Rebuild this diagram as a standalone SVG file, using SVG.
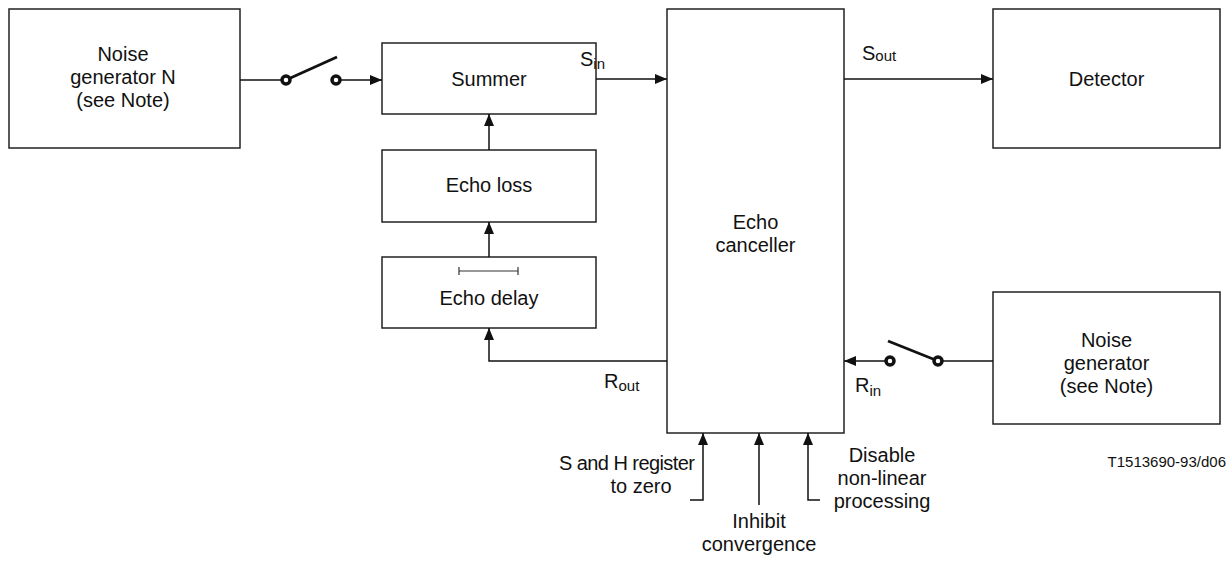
<svg xmlns="http://www.w3.org/2000/svg" width="1229" height="584" viewBox="0 0 1229 584">
<style>
.box{fill:#fff;stroke:#222;stroke-width:1.5}
.t{font-family:"Liberation Sans",Arial,sans-serif;font-size:20px;fill:#111;text-anchor:middle}
.l{font-family:"Liberation Sans",Arial,sans-serif;font-size:20px;fill:#111}
.w{fill:none;stroke:#111;stroke-width:1.5}
.sw{fill:none;stroke:#111;stroke-width:2.8}
.c{fill:#fff;stroke:#111;stroke-width:3.5}
</style>
<defs>
<marker id="ah" viewBox="0 0 12 10" refX="12" refY="5" markerWidth="12" markerHeight="10" markerUnits="userSpaceOnUse" orient="auto">
<path d="M0,0 L12,5 L0,10 Z" fill="#111"/>
</marker>
</defs>
<g id="noiseN">
<rect class="box" x="9" y="9" width="231" height="139"/>
<text class="t" x="123" y="61">Noise</text>
<text class="t" x="123" y="84">generator N</text>
<text class="t" x="123" y="107">(see Note)</text>
</g>
<g id="summer">
<rect class="box" x="382" y="43" width="214" height="71"/>
<text class="t" x="489" y="86">Summer</text>
</g>
<g id="echoloss">
<rect class="box" x="382" y="150" width="214" height="72"/>
<text class="t" x="489" y="192">Echo loss</text>
</g>
<g id="echodelay">
<rect class="box" x="382" y="257" width="214" height="71"/>
<path d="M459,267 V275 M518,267 V275 M459,271 H518" stroke="#333" stroke-width="1.2" fill="none"/>
<text class="t" x="489" y="305">Echo delay</text>
</g>
<g id="canceller">
<rect class="box" x="667" y="9" width="177" height="424"/>
<text class="t" x="755.5" y="229">Echo</text>
<text class="t" x="755.5" y="252">canceller</text>
</g>
<g id="detector">
<rect class="box" x="993" y="9" width="227" height="139"/>
<text class="t" x="1106.5" y="86">Detector</text>
</g>
<g id="noiseR">
<rect class="box" x="993" y="292" width="227" height="132"/>
<text class="t" x="1106.5" y="347">Noise</text>
<text class="t" x="1106.5" y="370">generator</text>
<text class="t" x="1106.5" y="393">(see Note)</text>
</g>
<g id="connectors">
<path class="w" d="M240,80 H286"/>
<path class="w" d="M336,80 H382" marker-end="url(#ah)"/>
<path class="sw" d="M286,80 L337,57"/>
<circle class="c" cx="286" cy="80" r="4"/>
<circle class="c" cx="336" cy="80" r="4"/>
<path class="w" d="M596,79 H667" marker-end="url(#ah)"/>
<path class="w" d="M844,79 H993" marker-end="url(#ah)"/>
<path class="w" d="M489,150 V114" marker-end="url(#ah)"/>
<path class="w" d="M489,257 V222" marker-end="url(#ah)"/>
<path class="w" d="M667,361 H489 V328" marker-end="url(#ah)"/>
<path class="w" d="M993,361 H938"/>
<path class="w" d="M890,361 H844" marker-end="url(#ah)"/>
<path class="sw" d="M938,361 L888,341"/>
<circle class="c" cx="890" cy="361" r="4"/>
<circle class="c" cx="938" cy="361" r="4"/>
<path class="w" d="M690,500 H703 V433" marker-end="url(#ah)"/>
<path class="w" d="M759,505 V433" marker-end="url(#ah)"/>
<path class="w" d="M820,500 H808 V433" marker-end="url(#ah)"/>
</g>
<g id="labels">
<text class="l" x="580" y="66">S<tspan font-size="15" dy="3">in</tspan></text>
<text class="l" x="862" y="60">S<tspan font-size="15" dy="1">out</tspan></text>
<text class="l" x="604" y="388">R<tspan font-size="15" dy="3">out</tspan></text>
<text class="l" x="855" y="392">R<tspan font-size="15" dy="4">in</tspan></text>
<text class="l" x="695" y="470" text-anchor="end" textLength="136">S and H register</text>
<text class="t" x="641" y="493">to zero</text>
<text class="t" x="759" y="528">Inhibit</text>
<text class="t" x="759" y="551">convergence</text>
<text class="t" x="882" y="462">Disable</text>
<text class="t" x="882" y="485">non-linear</text>
<text class="t" x="882" y="508">processing</text>
<text x="1226" y="467" text-anchor="end" font-family="'Liberation Sans',Arial,sans-serif" font-size="15" fill="#111">T1513690-93/d06</text>
</g>
</svg>
